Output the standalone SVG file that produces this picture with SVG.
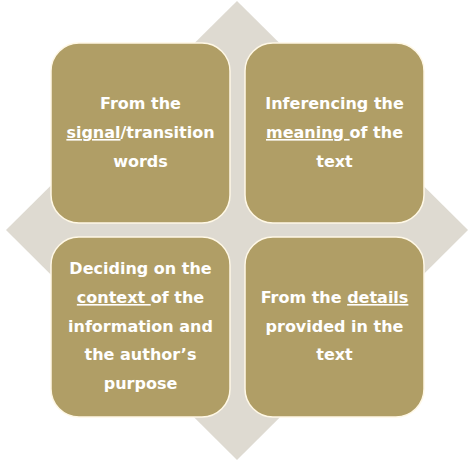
<svg xmlns="http://www.w3.org/2000/svg" width="474" height="461" viewBox="0 0 474 461">
<style>
.bg{fill:#ffffff}
.dia{fill:#DEDAD1}
.box{fill:#B09E66;stroke:#FFF8E6;stroke-width:1.5}
.t{font-family:"DejaVu Sans","Liberation Sans",sans-serif;font-weight:bold;font-size:16px;fill:#ffffff;text-anchor:middle}
.u{text-decoration:underline}
</style>
<rect class="bg" x="0" y="0" width="474" height="461"/>
<polygon id="diamond" class="dia" points="237,1 468,230 237,460 6,230"/>
<g id="connectors"></g>
<g id="n1">
<rect class="box" x="51" y="43" width="179" height="180" rx="28"/>
<text class="t" x="140.5" y="109">From the</text>
<text class="t" x="140.5" y="138"><tspan class="u">signal</tspan>/transition</text>
<text class="t" x="140.5" y="167">words</text>
</g>
<g id="n2">
<rect class="box" x="245" y="43" width="179" height="180" rx="28"/>
<text class="t" x="334.5" y="109">Inferencing the</text>
<text class="t" x="334.5" y="138" xml:space="preserve"><tspan class="u">meaning </tspan>of the</text>
<text class="t" x="334.5" y="167">text</text>
</g>
<g id="n3">
<rect class="box" x="51" y="237" width="179" height="180" rx="28"/>
<text class="t" x="140.5" y="274">Deciding on the</text>
<text class="t" x="140.5" y="303" xml:space="preserve"><tspan class="u">context </tspan>of the</text>
<text class="t" x="140.5" y="332">information and</text>
<text class="t" x="140.5" y="360">the author’s</text>
<text class="t" x="140.5" y="389">purpose</text>
</g>
<g id="n4">
<rect class="box" x="245" y="237" width="179" height="180" rx="28"/>
<text class="t" x="334.5" y="303" xml:space="preserve">From the <tspan class="u">details</tspan></text>
<text class="t" x="334.5" y="332">provided in the</text>
<text class="t" x="334.5" y="360">text</text>
</g>
</svg>
